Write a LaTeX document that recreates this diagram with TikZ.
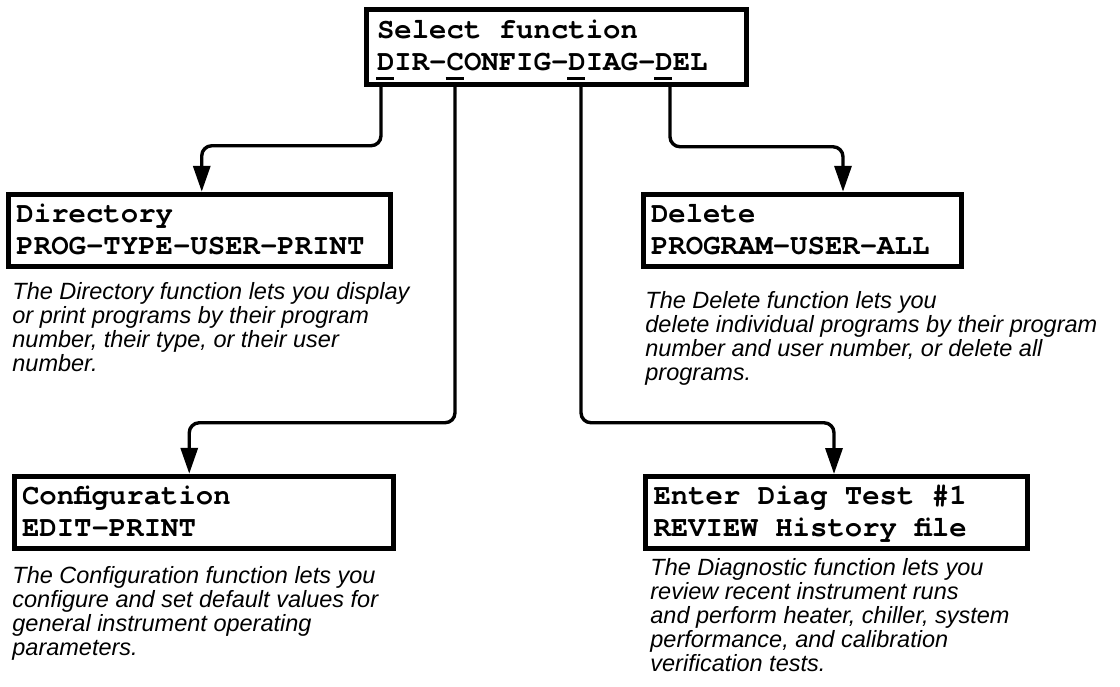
\documentclass[tikz,border=0pt]{standalone}
\usepackage{fontspec}
\setmainfont{Liberation Sans}
\setsansfont{Liberation Sans}
\setmonofont{TeX Gyre Cursor}[WordSpace={1,0,0}]
\usetikzlibrary{
    arrows.meta,      % Triangle tips
    positioning,      % notes below the boxes
    calc              % offsets on the menu line
}
\newcommand{\hotkey}[1]{\makebox[0pt][l]{\kern-0.5pt\smash{\rule[-4.75pt]{9pt}{1.5pt}}}#1}

\begin{document}
\begin{tikzpicture}[
    x=0.5pt, y=-0.5pt,
    lcd/.style={draw, line width=2.5pt, inner xsep=4pt, inner ysep=0.5pt,
      minimum height=36pt, text width=#1, align=left,
      font=\ttfamily\bfseries\fontsize{14.5}{16}\selectfont,
      execute at begin node={\spaceskip=8.7pt\relax\rule{0pt}{11pt}},
      execute at end node={\rule[-3pt]{0pt}{3pt}}},
    note/.style={inner sep=0pt, align=left,
      font=\sffamily\itshape\fontsize{11.75}{12}\selectfont},
    flow/.style={-{Triangle[length=13pt, width=8.5pt]}, line width=1.7pt, rounded corners=5pt},
  ]
    \useasboundingbox (0,0) rectangle (1120,686);

    % Main menu
    \node[lcd=179pt, inner xsep=5.5pt, minimum height=37.5pt] (sel) at (556,46.75)
      {Select function\\\hotkey{D}IR-\hotkey{C}ONFIG-\hotkey{D}IAG-\hotkey{D}EL};

    % Sub menus
    \node[lcd=182.75pt] (dir) at (199.25,230.25) {Directory\\PROG-TYPE-USER-PRINT};
    \node[lcd=151pt] (del) at (802,230.25) {Delete\\PROGRAM-USER-ALL};
    \node[lcd=181.75pt] (conf) at (203.75,512.25) {Configuration\\EDIT-PRINT};
    \node[lcd=183pt] (diag) at (836.5,512.5) {Enter Diag Test \#1\\REVIEW History file};

    % Notes
    \node[note, below right=6.75pt and 3pt of dir.south west] (dirnote)
      {The Directory function lets you display\\or print programs by their program\\number, their type, or their user\\number.};
    \node[note, below right=11.25pt and 2.25pt of del.south west] (delnote)
      {The Delete function lets you\\delete individual programs by their program\\number and user number, or delete all\\programs.};
    \node[note, below right=7.6pt and 0.25pt of conf.south west] (confnote)
      {The Configuration function lets you\\configure and set default values for\\general instrument operating\\parameters.};
    \node[note, below right=3.5pt and 3.5pt of diag.south west] (diagnote)
      {The Diagnostic function lets you\\review recent instrument runs\\and perform heater, chiller, system\\performance, and calibration\\verification tests.};

    % Hot keys
    \coordinate (kdir) at ($(sel.south west)+(17.5,0)$);
    \coordinate (kconf) at ($(sel.south west)+(91.5,0)$);
    \coordinate (kdiag) at ($(sel.south west)+(217.5,0)$);
    \coordinate (kdel) at ($(sel.south west)+(306.5,0)$);

    % Arrows
    \draw[flow] (kdir) -- ++(0,59) -| ($(dir.north)+(2.5,0)$);
    \draw[flow] (kdel) -- ++(0,60) -| ($(del.north)+(41,0)$);
    \draw[flow] (kconf) -- ++(0,336) -| ($(conf.north)+(-14.5,0)$);
    \draw[flow] (kdiag) -- ++(0,336) -| ($(diag.north)+(-2.5,0)$);
  \end{tikzpicture}
\end{document}
